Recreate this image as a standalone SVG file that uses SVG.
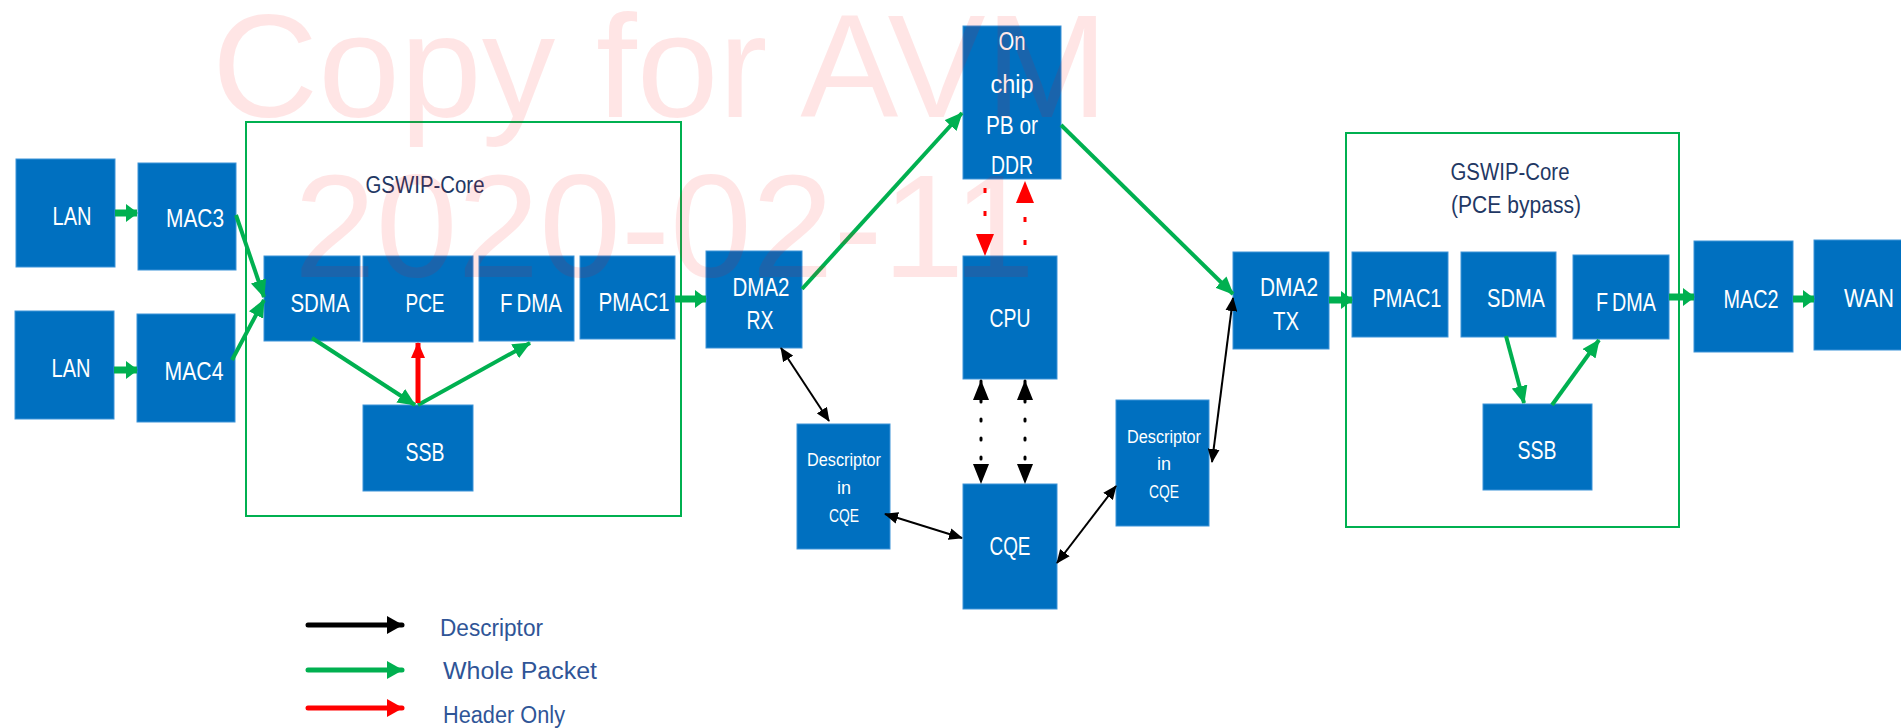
<svg xmlns="http://www.w3.org/2000/svg" width="1901" height="728" viewBox="0 0 1901 728">
<style>
.box{fill:#0070c0;stroke:#3c93d8;stroke-width:1}
.t{font-family:"Liberation Sans",Arial,sans-serif;font-size:25px;fill:#ffffff;text-anchor:middle;dominant-baseline:central}
.ts{font-family:"Liberation Sans",Arial,sans-serif;font-size:18px;fill:#ffffff;text-anchor:middle;dominant-baseline:central}
.title{font-family:"Liberation Sans",Arial,sans-serif;font-size:23px;fill:#1f3864;text-anchor:middle;dominant-baseline:central}
.leg{font-family:"Liberation Sans",Arial,sans-serif;font-size:23px;fill:#2f5597;dominant-baseline:central}
.frame{fill:none;stroke:#00b050;stroke-width:2}
.g{stroke:#00b050;stroke-width:4;fill:none;marker-end:url(#gh)}
.gf{stroke:#00b050;stroke-width:7;fill:none;marker-end:url(#ghf)}
.k{stroke:#000;stroke-width:2;fill:none;marker-start:url(#kh);marker-end:url(#kh)}
.kd{stroke:#000;stroke-width:3;fill:none;stroke-dasharray:2 17;stroke-linecap:round;marker-start:url(#khb);marker-end:url(#khb)}
.rd{stroke:#ff0000;stroke-width:3;fill:none;stroke-dasharray:5 18;marker-end:url(#rhb)}
.wm{font-family:"Liberation Sans",Arial,sans-serif;font-size:147px;fill:#ff0000;fill-opacity:0.1}
</style>
<defs>
<marker id="gh" markerUnits="userSpaceOnUse" markerWidth="18" markerHeight="16" refX="17" refY="8" orient="auto"><path d="M0,0 L18,8 L0,16 z" fill="#00b050"/></marker>
<marker id="ghf" markerUnits="userSpaceOnUse" markerWidth="12" markerHeight="18" refX="11" refY="9" orient="auto"><path d="M0,0 L12,9 L0,18 z" fill="#00b050"/></marker>
<marker id="kh" markerUnits="userSpaceOnUse" markerWidth="14" markerHeight="12" refX="13" refY="6" orient="auto-start-reverse"><path d="M0,0 L14,6 L0,12 z" fill="#000"/></marker>
<marker id="khb" markerUnits="userSpaceOnUse" markerWidth="20" markerHeight="16" refX="19" refY="8" orient="auto-start-reverse"><path d="M0,0 L20,8 L0,16 z" fill="#000"/></marker>
<marker id="rhb" markerUnits="userSpaceOnUse" markerWidth="22" markerHeight="18" refX="21" refY="9" orient="auto"><path d="M0,0 L22,9 L0,18 z" fill="#ff0000"/></marker>
<marker id="rh" markerUnits="userSpaceOnUse" markerWidth="16" markerHeight="14" refX="15" refY="7" orient="auto"><path d="M0,0 L16,7 L0,14 z" fill="#ff0000"/></marker>
<marker id="lk" markerUnits="userSpaceOnUse" markerWidth="16" markerHeight="18" refX="15" refY="9" orient="auto"><path d="M0,0 L16,9 L0,18 z" fill="#000"/></marker>
<marker id="lg" markerUnits="userSpaceOnUse" markerWidth="16" markerHeight="18" refX="15" refY="9" orient="auto"><path d="M0,0 L16,9 L0,18 z" fill="#00b050"/></marker>
<marker id="lr" markerUnits="userSpaceOnUse" markerWidth="16" markerHeight="18" refX="15" refY="9" orient="auto"><path d="M0,0 L16,9 L0,18 z" fill="#ff0000"/></marker>
</defs>
<rect width="1901" height="728" fill="#ffffff"/>

<g id="gswip-left">
<rect class="frame" x="246" y="122" width="435" height="394"/>
<text class="title" x="425" y="185" textLength="119" lengthAdjust="spacingAndGlyphs">GSWIP-Core</text>
</g>
<g id="gswip-right">
<rect class="frame" x="1346" y="133" width="333" height="394"/>
<text class="title" x="1510" y="172" textLength="119" lengthAdjust="spacingAndGlyphs">GSWIP-Core</text>
<text class="title" x="1516" y="205" textLength="130" lengthAdjust="spacingAndGlyphs">(PCE bypass)</text>
</g>

<g id="lan1"><rect class="box" x="16" y="159" width="99" height="108"/><text class="t" x="72" y="216" textLength="39" lengthAdjust="spacingAndGlyphs">LAN</text></g>
<g id="mac3"><rect class="box" x="138" y="163" width="98" height="107"/><text class="t" x="195" y="218" textLength="58" lengthAdjust="spacingAndGlyphs">MAC3</text></g>
<g id="lan2"><rect class="box" x="15" y="311" width="99" height="108"/><text class="t" x="71" y="368" textLength="39" lengthAdjust="spacingAndGlyphs">LAN</text></g>
<g id="mac4"><rect class="box" x="137" y="314" width="98" height="108"/><text class="t" x="194" y="371" textLength="59" lengthAdjust="spacingAndGlyphs">MAC4</text></g>
<g id="sdma1"><rect class="box" x="264" y="256" width="96" height="85"/><text class="t" x="320" y="303" textLength="59" lengthAdjust="spacingAndGlyphs">SDMA</text></g>
<g id="pce"><rect class="box" x="363" y="256" width="110" height="86"/><text class="t" x="425" y="303" textLength="39" lengthAdjust="spacingAndGlyphs">PCE</text></g>
<g id="fdma1"><rect class="box" x="479" y="256" width="95" height="85"/><text class="t" x="531" y="303" textLength="62" lengthAdjust="spacingAndGlyphs">F<tspan dx="5">DMA</tspan></text></g>
<g id="pmac1a"><rect class="box" x="580" y="256" width="95" height="83"/><text class="t" x="634" y="302" textLength="71" lengthAdjust="spacingAndGlyphs">PMAC1</text></g>
<g id="ssb1"><rect class="box" x="363" y="405" width="110" height="86"/><text class="t" x="425" y="452" textLength="39" lengthAdjust="spacingAndGlyphs">SSB</text></g>

<g id="dma2rx"><rect class="box" x="706" y="251" width="96" height="97"/><text class="t" x="761" y="287" textLength="57" lengthAdjust="spacingAndGlyphs">DMA2</text><text class="t" x="760" y="320" textLength="27" lengthAdjust="spacingAndGlyphs">RX</text></g>
<g id="onchip"><rect class="box" x="963" y="26" width="98" height="153"/>
<text class="t" x="1012" y="41" textLength="27" lengthAdjust="spacingAndGlyphs">On</text>
<text class="t" x="1012" y="84" textLength="43" lengthAdjust="spacingAndGlyphs">chip</text>
<text class="t" x="1012" y="125" textLength="52" lengthAdjust="spacingAndGlyphs">PB or</text>
<text class="t" x="1012" y="165" textLength="42" lengthAdjust="spacingAndGlyphs">DDR</text></g>
<g id="cpu"><rect class="box" x="963" y="256" width="94" height="123"/><text class="t" x="1010" y="318" textLength="41" lengthAdjust="spacingAndGlyphs">CPU</text></g>
<g id="cqe"><rect class="box" x="963" y="484" width="94" height="125"/><text class="t" x="1010" y="546" textLength="41" lengthAdjust="spacingAndGlyphs">CQE</text></g>
<g id="descl"><rect class="box" x="797" y="424" width="93" height="125"/><text class="ts" x="844" y="460" textLength="74" lengthAdjust="spacingAndGlyphs">Descriptor</text><text class="ts" x="844" y="488">in</text><text class="ts" x="844" y="516" textLength="30" lengthAdjust="spacingAndGlyphs">CQE</text></g>
<g id="descr"><rect class="box" x="1116" y="400" width="93" height="126"/><text class="ts" x="1164" y="437" textLength="74" lengthAdjust="spacingAndGlyphs">Descriptor</text><text class="ts" x="1164" y="464">in</text><text class="ts" x="1164" y="492" textLength="30" lengthAdjust="spacingAndGlyphs">CQE</text></g>
<g id="dma2tx"><rect class="box" x="1233" y="252" width="96" height="97"/><text class="t" x="1289" y="287" textLength="58" lengthAdjust="spacingAndGlyphs">DMA2</text><text class="t" x="1286" y="321" textLength="26" lengthAdjust="spacingAndGlyphs">TX</text></g>

<g id="pmac1b"><rect class="box" x="1352" y="252" width="96" height="85"/><text class="t" x="1407" y="298" textLength="69" lengthAdjust="spacingAndGlyphs">PMAC1</text></g>
<g id="sdma2"><rect class="box" x="1461" y="252" width="95" height="85"/><text class="t" x="1516" y="298" textLength="58" lengthAdjust="spacingAndGlyphs">SDMA</text></g>
<g id="fdma2"><rect class="box" x="1573" y="255" width="96" height="84"/><text class="t" x="1626" y="302" textLength="60" lengthAdjust="spacingAndGlyphs">F<tspan dx="5">DMA</tspan></text></g>
<g id="ssb2"><rect class="box" x="1483" y="404" width="109" height="86"/><text class="t" x="1537" y="450" textLength="39" lengthAdjust="spacingAndGlyphs">SSB</text></g>
<g id="mac2"><rect class="box" x="1694" y="241" width="99" height="111"/><text class="t" x="1751" y="299" textLength="55" lengthAdjust="spacingAndGlyphs">MAC2</text></g>
<g id="wan"><rect class="box" x="1814" y="240" width="90" height="110"/><text class="t" x="1869" y="298" textLength="50" lengthAdjust="spacingAndGlyphs">WAN</text></g>

<g id="connectors">
<line class="gf" x1="115" y1="213" x2="137" y2="213"/>
<line class="gf" x1="114" y1="370" x2="137" y2="370"/>
<line class="g" x1="236" y1="215" x2="264" y2="297"/>
<line class="g" x1="232" y1="360" x2="264" y2="300"/>
<line class="g" x1="312" y1="338" x2="415" y2="405"/>
<line class="g" x1="418" y1="405" x2="530" y2="343"/>
<line stroke="#ff0000" stroke-width="5" marker-end="url(#rh)" x1="418" y1="403" x2="418" y2="343"/>
<line class="gf" x1="675" y1="299" x2="706" y2="299"/>
<line class="g" x1="802" y1="289" x2="962" y2="113"/>
<line class="g" x1="1061" y1="125" x2="1233" y2="294"/>
<line class="rd" x1="985" y1="188" x2="985" y2="255"/>
<line class="rd" x1="1025" y1="245" x2="1025" y2="182"/>
<line class="kd" x1="981" y1="381" x2="981" y2="483"/>
<line class="kd" x1="1025" y1="381" x2="1025" y2="483"/>
<line class="k" x1="781" y1="348" x2="829" y2="421"/>
<line class="k" x1="885" y1="514" x2="962" y2="538"/>
<line class="k" x1="1057" y1="563" x2="1116" y2="486"/>
<line class="k" x1="1212" y1="462" x2="1233" y2="298"/>
<line class="gf" x1="1329" y1="300" x2="1352" y2="300"/>
<line class="g" x1="1506" y1="336" x2="1524" y2="403"/>
<line class="g" x1="1552" y1="405" x2="1599" y2="340"/>
<line class="gf" x1="1669" y1="297" x2="1694" y2="297"/>
<line class="gf" x1="1793" y1="299" x2="1814" y2="299"/>
</g>

<g id="legend">
<line x1="308" y1="625" x2="402" y2="625" stroke="#000" stroke-width="5" stroke-linecap="round" marker-end="url(#lk)"/>
<line x1="308" y1="670" x2="402" y2="670" stroke="#00b050" stroke-width="5" stroke-linecap="round" marker-end="url(#lg)"/>
<line x1="308" y1="708" x2="402" y2="708" stroke="#ff0000" stroke-width="5" stroke-linecap="round" marker-end="url(#lr)"/>
<text class="leg" x="440" y="628" textLength="103" lengthAdjust="spacingAndGlyphs">Descriptor</text>
<text class="leg" x="443" y="671" textLength="154" lengthAdjust="spacingAndGlyphs">Whole Packet</text>
<text class="leg" x="443" y="715" textLength="122" lengthAdjust="spacingAndGlyphs">Header Only</text>
</g>

<g id="watermark">
<text class="wm" x="212" y="117">Copy for AVM</text>
<text class="wm" x="294" y="277">2020-02-11</text>
</g>
</svg>
